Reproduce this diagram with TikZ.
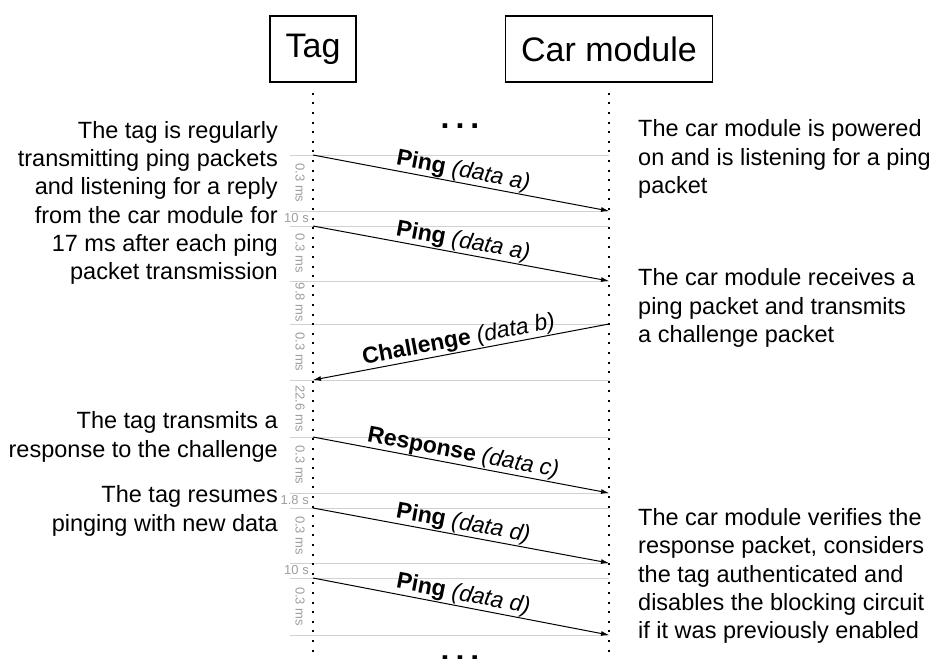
\documentclass[tikz,border=0pt]{standalone}
\usepackage{fontspec}
\setmainfont{Liberation Sans}
\usetikzlibrary{arrows.meta}

\tikzset{
  actor/.style={draw, line width=1.5pt, font=\fontsize{34}{34}\selectfont,
    minimum height=66pt, inner xsep=15.5pt},
  lifeline/.style={line width=2pt, dash pattern=on 2pt off 7.6pt},
  msg/.style={line width=1pt, -{Latex[length=8pt,width=5pt]}},
  guide/.style={draw=black!18, line width=1pt},
  note/.style={font=\fontsize{23.5}{28.3}\selectfont, inner sep=0pt},
  msglabel/.style={font=\fontsize{23}{23}\selectfont, midway, sloped, above, inner sep=0.5pt},
  gap/.style={font=\fontsize{13}{13}\selectfont, text=black!38, inner sep=0pt},
  more/.style={font=\fontsize{32}{32}\bfseries, anchor=base, inner sep=0pt}
}

\begin{document}
\begin{tikzpicture}[x=1pt,y=-1pt]
   \useasboundingbox (0,0) rectangle (930,659);

   % participants
   \node[actor] (tag) at (313,49) {Tag};
   \node[actor] (car) at (609,49) {Car module};
   \coordinate (tagend) at (313,659);
   \coordinate (carend) at (609,659);

   % time slots
   \foreach \y in {155,211,226,281,324,380,437,493,508,563,578,635}
      \draw[guide] (290,\y) -- (609,\y);

   \draw[lifeline] ([yshift=-10pt]tag.south) -- (tagend);
   \draw[lifeline] ([yshift=-10pt]car.south) -- (carend);

   \node[more] (dotstop) at (460,128) {.\hspace{6pt}.\hspace{6pt}.};
   \node[more] (dotsbot) at (460,660) {.\hspace{6pt}.\hspace{6pt}.};

   % messages
   \coordinate (m1s) at (313,155); \coordinate (m1e) at (609,211);
   \coordinate (m2s) at (313,226); \coordinate (m2e) at (609,281);
   \coordinate (m3s) at (609,324); \coordinate (m3e) at (313,380);
   \coordinate (m4s) at (313,437); \coordinate (m4e) at (609,493);
   \coordinate (m5s) at (313,508); \coordinate (m5e) at (609,563);
   \coordinate (m6s) at (313,578); \coordinate (m6e) at (609,635);

   \draw[msg] (m1s) -- (m1e) node[msglabel] {\textbf{Ping} \textit{(data a)}};
   \draw[msg] (m2s) -- (m2e) node[msglabel] {\textbf{Ping} \textit{(data a)}};
   \draw[msg] (m3s) -- (m3e) node[msglabel] {\textbf{Challenge} \textit{(data b)}};
   \draw[msg] (m4s) -- (m4e) node[msglabel] {\textbf{Response} \textit{(data c)}};
   \draw[msg] (m5s) -- (m5e) node[msglabel] {\textbf{Ping} \textit{(data d)}};
   \draw[msg] (m6s) -- (m6e) node[msglabel] {\textbf{Ping} \textit{(data d)}};

   % durations
   \node[gap, rotate=-90] (g1) at (300,183)   {0.3 ms};
   \node[gap, anchor=east] (g2) at (309,218.5) {10 s};
   \node[gap, rotate=-90] (g3) at (300,253.5) {0.3 ms};
   \node[gap, rotate=-90] (g4) at (300,302.5) {9.8 ms};
   \node[gap, rotate=-90] (g5) at (300,352)   {0.3 ms};
   \node[gap, rotate=-90] (g6) at (300,408.5) {22.6 ms};
   \node[gap, rotate=-90] (g7) at (300,465)   {0.3 ms};
   \node[gap, anchor=east] (g8) at (309,500.5) {1.8 s};
   \node[gap, rotate=-90] (g9) at (300,535.5) {0.3 ms};
   \node[gap, anchor=east] (g10) at (309,570.5) {10 s};
   \node[gap, rotate=-90] (g11) at (300,606.5) {0.3 ms};

   % notes
   \node[note, align=right, anchor=east] (tagnote1) at (278,203)
      {The tag is regularly\\transmitting ping packets\\and listening for a reply\\from the car module for\\17 ms after each ping\\packet transmission};
   \node[note, align=right, anchor=east] (tagnote2) at (278,437)
      {The tag transmits a\\response to the challenge};
   \node[note, align=right, anchor=east] (tagnote3) at (278,511)
      {The tag resumes\\pinging with new data};
   \node[note, align=left, anchor=west] (carnote1) at (638,159)
      {The car module is powered\\on and is listening for a ping\\packet};
   \node[note, align=left, anchor=west] (carnote2) at (638,308)
      {The car module receives a\\ping packet and transmits\\a challenge packet};
   \node[note, align=left, anchor=west] (carnote3) at (638,576)
      {The car module verifies the\\response packet, considers\\the tag authenticated and\\disables the blocking circuit\\if it was previously enabled};
\end{tikzpicture}
\end{document}
